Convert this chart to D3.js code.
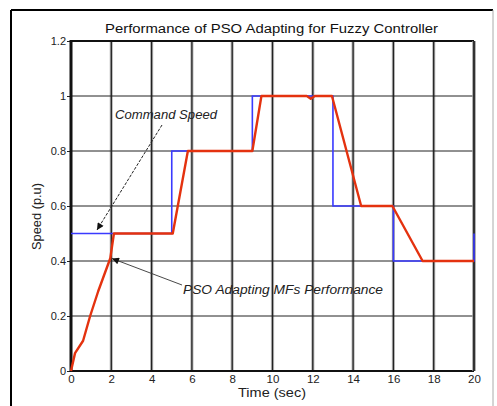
<!DOCTYPE html>
<html>
<head>
<meta charset="utf-8">
<script src="https://cdn.jsdelivr.net/npm/d3@7"></script>
<style>
  html, body { margin: 0; padding: 0; background: #fff; }
  svg { display: block; font-family: "Liberation Sans", Arial, sans-serif; }
</style>
</head>
<body>
<svg id="chart" width="497" height="406"></svg>
<script>
// Command speed (step reference), time in seconds
const commandTime  = [0, 5, 5, 9, 9, 13, 13, 16, 16, 20, 20];
const commandSpeed = [0.5, 0.5, 0.8, 0.8, 1.0, 1.0, 0.6, 0.6, 0.4, 0.4, 0.5];

// Speed response with the PSO-adapted membership functions
const responseTime  = [0, 0.2, 0.6, 0.95, 1.35, 1.6, 1.95, 2.13, 5.05, 5.8, 9.0, 9.45, 11.7, 11.9, 12.1, 12.95, 14.4, 15.95, 17.45, 20];
const responseSpeed = [0, 0.065, 0.11, 0.2, 0.29, 0.34, 0.41, 0.5, 0.5, 0.8, 0.8, 1.0, 1.0, 0.99, 1.0, 1.0, 0.6, 0.6, 0.4, 0.4];

// Axis ticks
const xTicks = [0, 2, 4, 6, 8, 10, 12, 14, 16, 18, 20];
const yTicks = [0, 0.2, 0.4, 0.6, 0.8, 1, 1.2];
const yTickLabels = ["0", "0.2", "0.4", "0.6", "0.8", "1", "1.2"];

const svg = d3.select("#chart");
const plotLeft = 71, plotRight = 474, plotTop = 41, plotBottom = 371;

const x = d3.scaleLinear().domain([0, 20]).range([plotLeft, plotRight]);
const y = d3.scaleLinear().domain([0, 1.2]).range([plotBottom, plotTop]);

// Outer figure frame
svg.append("line").attr("x1", 11).attr("x2", 11).attr("y1", 10).attr("y2", 406)
  .attr("stroke", "#000").attr("stroke-width", 2);
svg.append("line").attr("x1", 11).attr("x2", 493).attr("y1", 10).attr("y2", 10)
  .attr("stroke", "#000").attr("stroke-width", 2);
svg.append("line").attr("x1", 493).attr("x2", 493).attr("y1", 10).attr("y2", 406)
  .attr("stroke", "#aaa").attr("stroke-width", 1);

// Vertical grid lines (dark core with grey halo)
const vGrid = svg.append("g");
xTicks.filter(t => t > 0 && t < 20).forEach(t => {
  vGrid.append("line").attr("x1", x(t)).attr("x2", x(t)).attr("y1", plotTop).attr("y2", plotBottom)
    .attr("stroke", "#bbb").attr("stroke-width", 3.2);
  vGrid.append("line").attr("x1", x(t)).attr("x2", x(t)).attr("y1", plotTop).attr("y2", plotBottom)
    .attr("stroke", "#222").attr("stroke-width", 1.3);
});

// Horizontal grid lines
yTicks.filter(t => t > 0 && t < 1.2).forEach(t => {
  svg.append("line").attr("x1", plotLeft).attr("x2", plotRight).attr("y1", y(t)).attr("y2", y(t))
    .attr("stroke", "#222").attr("stroke-width", 1);
});

// Axes
const xAxis = d3.axisBottom(x).tickValues(xTicks).tickSize(0).tickPadding(4)
  .tickFormat(d => d);
const gx = svg.append("g").attr("transform", `translate(0,${plotBottom})`).call(xAxis);
gx.select(".domain").remove();
gx.selectAll("text").attr("font-size", 11.5).attr("fill", "#222")
  .attr("font-family", "Liberation Sans, Arial, sans-serif");

const yAxis = d3.axisLeft(y).tickValues(yTicks).tickSize(4).tickPadding(1)
  .tickFormat((d, i) => yTickLabels[i]);
const gy = svg.append("g").attr("transform", `translate(${plotLeft},0)`).call(yAxis);
gy.select(".domain").remove();
gy.selectAll("line").attr("stroke", "#222");
gy.selectAll("text").attr("font-size", 11).attr("fill", "#222")
  .attr("font-family", "Liberation Sans, Arial, sans-serif");

// Plot box
svg.append("line").attr("x1", plotLeft).attr("x2", plotRight).attr("y1", plotTop).attr("y2", plotTop)
  .attr("stroke", "#111").attr("stroke-width", 2);
svg.append("line").attr("x1", plotLeft).attr("x2", plotRight).attr("y1", plotBottom).attr("y2", plotBottom)
  .attr("stroke", "#111").attr("stroke-width", 2);
svg.append("line").attr("x1", plotRight).attr("x2", plotRight).attr("y1", plotTop).attr("y2", plotBottom)
  .attr("stroke", "#999").attr("stroke-width", 3.5);
svg.append("line").attr("x1", plotRight).attr("x2", plotRight).attr("y1", plotTop).attr("y2", plotBottom)
  .attr("stroke", "#111").attr("stroke-width", 1.5);
svg.append("line").attr("x1", plotLeft).attr("x2", plotLeft).attr("y1", plotTop - 1).attr("y2", plotBottom + 1)
  .attr("stroke", "#111").attr("stroke-width", 3);

// Series
const line = d3.line().x(d => x(d[0])).y(d => y(d[1]));
const cmd = commandTime.map((t, i) => [t, commandSpeed[i]]);
const resp = responseTime.map((t, i) => [t, responseSpeed[i]]);

svg.append("path").datum(cmd).attr("d", line)
  .attr("fill", "none").attr("stroke", "#3a3aff").attr("stroke-width", 1.6);
svg.append("path").datum(resp).attr("d", line)
  .attr("fill", "none").attr("stroke", "#e4320f").attr("stroke-width", 2.4)
  .attr("stroke-linejoin", "round");

// Annotation arrows
const defs = svg.append("defs");
defs.append("marker").attr("id", "arrowhead").attr("viewBox", "0 0 10 10")
  .attr("refX", 10).attr("refY", 5).attr("markerWidth", 9).attr("markerHeight", 7)
  .attr("markerUnits", "userSpaceOnUse").attr("orient", "auto")
  .append("path").attr("d", "M0,0 L10,5 L0,10 Z").attr("fill", "#111");

svg.append("line").attr("x1", 162).attr("y1", 125).attr("x2", 97).attr("y2", 230)
  .attr("stroke", "#222").attr("stroke-width", 1).attr("stroke-dasharray", "3,1.5")
  .attr("marker-end", "url(#arrowhead)");
svg.append("line").attr("x1", 182).attr("y1", 285).attr("x2", 112).attr("y2", 258.5)
  .attr("stroke", "#333").attr("stroke-width", 0.9)
  .attr("marker-end", "url(#arrowhead)");

svg.append("text").attr("x", 115).attr("y", 119).attr("font-size", 12)
  .attr("font-style", "italic").attr("fill", "#222")
  .attr("textLength", 102).attr("lengthAdjust", "spacingAndGlyphs")
  .text("Command Speed");
svg.append("text").attr("x", 183).attr("y", 294).attr("font-size", 12)
  .attr("font-style", "italic").attr("fill", "#222")
  .attr("textLength", 200).attr("lengthAdjust", "spacingAndGlyphs")
  .text("PSO Adapting MFs Performance");

// Title and axis titles
svg.append("text").attr("x", 105).attr("y", 33)
  .attr("font-size", 12.5).attr("fill", "#111")
  .attr("textLength", 333).attr("lengthAdjust", "spacingAndGlyphs")
  .text("Performance of PSO Adapting for Fuzzy Controller");
svg.append("text").attr("x", 238).attr("y", 397)
  .attr("font-size", 12).attr("fill", "#222")
  .attr("textLength", 68).attr("lengthAdjust", "spacingAndGlyphs")
  .text("Time (sec)");
svg.append("text").attr("transform", "translate(41,250) rotate(-90)")
  .attr("font-size", 12).attr("fill", "#222")
  .attr("textLength", 67).attr("lengthAdjust", "spacingAndGlyphs")
  .text("Speed (p.u)");
</script>
</body>
</html>
